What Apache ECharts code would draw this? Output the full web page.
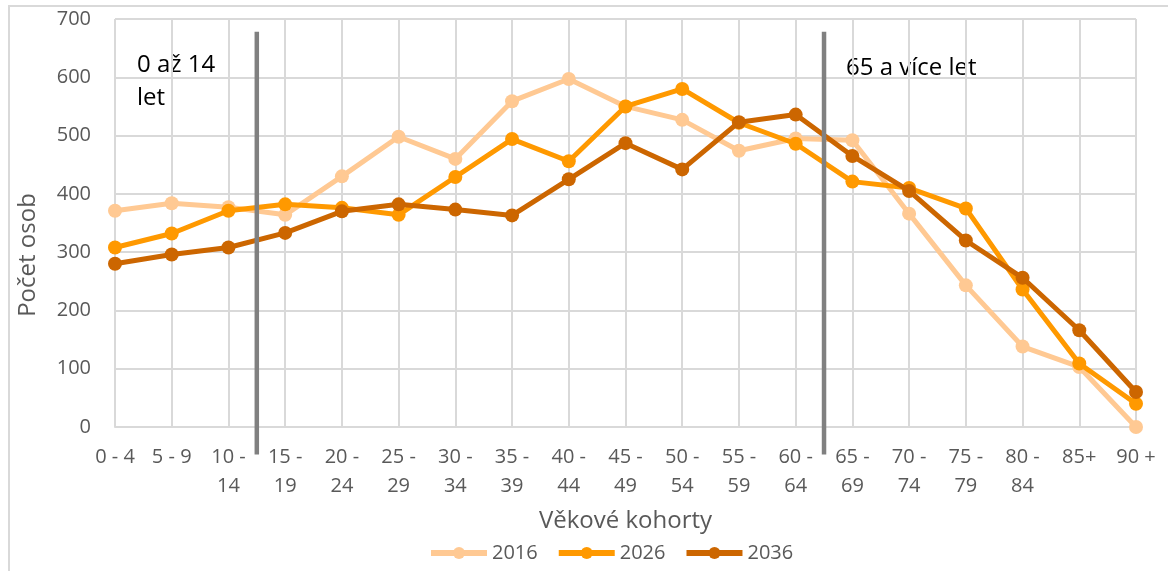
<!DOCTYPE html>
<html>
<head>
<meta charset="utf-8">
<script src="https://cdn.jsdelivr.net/npm/echarts@6/dist/echarts.min.js"></script>
<style>
html,body{margin:0;padding:0;background:#fff;}
#frame{position:absolute;left:8px;top:5px;width:1200px;height:600px;border-left:2px solid #d9d9d9;border-top:2px solid #d9d9d9;box-sizing:border-box;}
#chart{position:absolute;left:0;top:0;width:1168px;height:571px;}
</style>
</head>
<body>
<div id="frame"></div>
<div id="chart"></div>
<script>
const categories = ['0 - 4','5 - 9','10 - 14','15 - 19','20 - 24','25 - 29','30 - 34','35 - 39','40 - 44','45 - 49','50 - 54','55 - 59','60 - 64','65 - 69','70 - 74','75 - 79','80 - 84','85+','90 +'];
const v2016 = [371, 384, 377, 364, 430, 498, 460, 559, 597, 550, 527, 474, 495, 492, 366, 243, 138, 103, 0];
const v2026 = [308, 332, 371, 382, 376, 364, 429, 494, 456, 550, 580, 522, 486, 421, 410, 375, 236, 109, 40];
const v2036 = [280, 296, 308, 333, 370, 382, 373, 363, 425, 487, 442, 523, 536, 465, 405, 320, 256, 166, 60];
const seriesNames = ['2016', '2026', '2036'];
const dividers = [2.5, 12.5];       // boundaries between age groups (category index)
const dividerRange = [678, -47];    // value-axis extent of the divider lines
const yTicks = {min: 0, max: 700, interval: 100};

const chart = echarts.init(document.getElementById('chart'));
const FONT = 'Open Sans';
const colors = ['#FFC993', '#FF9900', '#CC6600'];
const values = [v2016, v2026, v2036];

const lineSeries = seriesNames.map((n, i) => ({
  name: n,
  type: 'line',
  data: values[i],
  symbol: 'circle',
  symbolSize: 14,
  lineStyle: {width: 5, color: colors[i]},
  itemStyle: {color: colors[i]},
  z: 2 + i,
  animation: false
}));

const dividerSeries = dividers.map(d => ({
  type: 'line',
  xAxisIndex: 1,
  data: [[d, dividerRange[0]], [d, dividerRange[1]]],
  symbol: 'none',
  clip: false,
  silent: true,
  lineStyle: {width: 4.5, color: '#808080'},
  z: 10,
  animation: false
}));

chart.setOption({
  animation: false,
  textStyle: {fontFamily: FONT},
  grid: {left: 115, right: 32, top: 19, bottom: 144},
  legend: {
    data: seriesNames,
    bottom: 3,
    left: 423,
    itemWidth: 56,
    itemHeight: 15,
    itemGap: 18,
    lineStyle: {width: 6},
    textStyle: {fontFamily: FONT, fontSize: 20, color: '#595959'}
  },
  xAxis: [{
    type: 'category',
    data: categories,
    boundaryGap: false,
    axisLine: {lineStyle: {color: '#d9d9d9', width: 2}},
    axisTick: {show: false},
    splitLine: {show: true, lineStyle: {color: '#d9d9d9', width: 2}},
    axisLabel: {
      interval: 0,
      margin: 16,
      fontSize: 20,
      lineHeight: 29,
      color: '#595959',
      fontFamily: FONT,
      formatter: s => s.length > 5 ? s.replace('- ', '-\n') : s
    },
    name: 'Věkové kohorty',
    nameLocation: 'middle',
    nameGap: 82,
    nameTextStyle: {fontSize: 24, color: '#595959', fontFamily: FONT}
  }, {
    type: 'value',
    min: 0,
    max: categories.length - 1,
    show: false
  }],
  yAxis: {
    type: 'value',
    min: yTicks.min,
    max: yTicks.max,
    interval: yTicks.interval,
    axisLine: {show: false},
    axisTick: {show: false},
    splitLine: {lineStyle: {color: '#d9d9d9', width: 2}},
    axisLabel: {fontSize: 20, color: '#595959', margin: 24, fontFamily: FONT}
  },
  graphic: [
    {type: 'text', left: 137, top: 49, style: {text: '0 až 14\nlet', font: '24px "Open Sans"', lineHeight: 33, fill: '#000'}},
    {type: 'text', left: 846, top: 52, style: {text: '65 a více let', font: '24px "Open Sans"', lineHeight: 33, fill: '#000'}},
    {type: 'text', x: 28, y: 255, rotation: Math.PI / 2, style: {text: 'Počet osob', font: '24px "Open Sans"', fill: '#595959', align: 'center', verticalAlign: 'middle'}}
  ],
  series: lineSeries.concat(dividerSeries)
});
</script>
</body>
</html>
